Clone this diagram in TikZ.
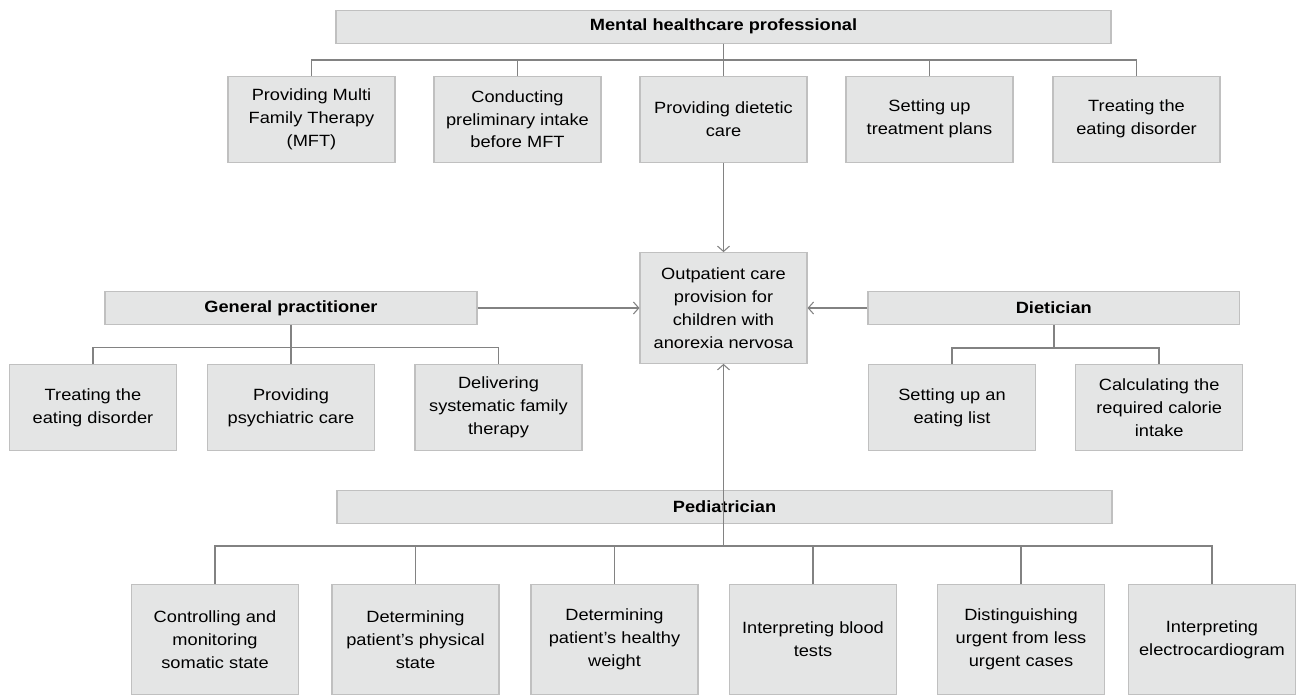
\documentclass[tikz,border=0pt]{standalone}
\usepackage{fontspec}
\setmainfont{Liberation Sans}[FakeStretch=1.12]
\usetikzlibrary{arrows.meta}
\definecolor{boxfill}{RGB}{228,229,229}
\definecolor{boxline}{RGB}{192,192,192}
\definecolor{connc}{RGB}{130,130,130}
\tikzset{
 txt/.style={font=\fontsize{12.2pt}{17.2pt}\selectfont},
 box/.style={txt, draw=boxline, fill=boxfill, line width=0.8pt, align=center, inner sep=0pt, minimum width=125.25pt, minimum height=64.5pt},
 tallbox/.style={box, minimum height=82.5pt},
 head/.style={box, font=\fontsize{12.2pt}{17.2pt}\selectfont\bfseries, minimum height=24.6pt},
 conn/.style={draw=connc, line width=1.1pt},
 arr/.style={conn, -{Straight Barb[length=4pt,width=9pt,line width=0.8pt]}},
}
\begin{document}
\begin{tikzpicture}[x=0.75pt,y=-0.75pt]
\useasboundingbox (0,0) rectangle (1296,695);
% Mental healthcare professional
\node[head, minimum width=581.25pt] (top) at (723.5,26.7) {Mental healthcare professional};
\node[box] (m1) at (311.5,119.2) {Providing Multi\\Family Therapy\\(MFT)};
\node[box] (m2) at (517.5,119.2) {Conducting\\preliminary intake\\before MFT};
\node[box] (m3) at (723.5,119.2) {Providing dietetic\\care};
\node[box] (m4) at (929.5,119.2) {Setting up\\treatment plans};
\node[box] (m5) at (1136.5,119.2) {Treating the\\eating disorder};
% center
\node[box, minimum height=83pt] (center) at (723.5,308) {Outpatient care\\provision for\\children with\\anorexia nervosa};
% General practitioner
\node[head, minimum width=279pt] (gp) at (291,308) {General practitioner};
\node[box] (g1) at (93,407.5) {Treating the\\eating disorder};
\node[box] (g2) at (291,407.5) {Providing\\psychiatric care};
\node[box] (g3) at (498.5,407.5) {Delivering\\systematic family\\therapy};
% Dietician
\node[head, minimum width=278.7pt] (dt) at (1053.8,308) {Dietician};
\node[box] (d1) at (952,407.5) {Setting up an\\eating list};
\node[box] (d2) at (1159.2,407.5) {Calculating the\\required calorie\\intake};
% Pediatrician
\node[head, minimum width=581.25pt] (pd) at (724.5,507) {Pediatrician};
\node[tallbox] (p1) at (215,639.5) {Controlling and\\monitoring\\somatic state};
\node[tallbox] (p2) at (415.5,639.5) {Determining\\patient’s physical\\state};
\node[tallbox] (p3) at (614.5,639.5) {Determining\\patient’s healthy\\weight};
\node[tallbox] (p4) at (813,639.5) {Interpreting blood\\tests};
\node[tallbox] (p5) at (1021,639.5) {Distinguishing\\urgent from less\\urgent cases};
\node[tallbox] (p6) at (1212,639.5) {Interpreting\\electrocardiogram};
% bus coordinates
\coordinate (mbus) at (723.5,60);
\coordinate (gbus) at (291,347.3);
\coordinate (dbus) at (1053.8,348);
\coordinate (pbus) at (723.5,546);
% tree connectors
\draw[conn] (top.south) -- (m3.north);
\draw[conn] (m1.north) |- (mbus) -| (m5.north);
\draw[conn] (m2.north) -- (m2.north |- mbus);
\draw[conn] (m4.north) -- (m4.north |- mbus);
\draw[conn] (gp.south) -- (g2.north);
\draw[conn] (g1.north) |- (gbus) -| (g3.north);
\draw[conn] (dt.south) -- (dbus);
\draw[conn] (d1.north) |- (dbus) -| (d2.north);
\draw[conn] (p1.north) |- (pbus) -| (p6.north);
\draw[conn] (p2.north) -- (p2.north |- pbus);
\draw[conn] (p3.north) -- (p3.north |- pbus);
\draw[conn] (p4.north) -- (p4.north |- pbus);
\draw[conn] (p5.north) -- (p5.north |- pbus);
% arrows into center
\draw[arr] (m3.south) -- (center.north);
\draw[arr] (gp.east) -- (center.west);
\draw[arr] (dt.west) -- (center.east);
\draw[arr] (pbus) -- (center.south);
\end{tikzpicture}
\end{document}
